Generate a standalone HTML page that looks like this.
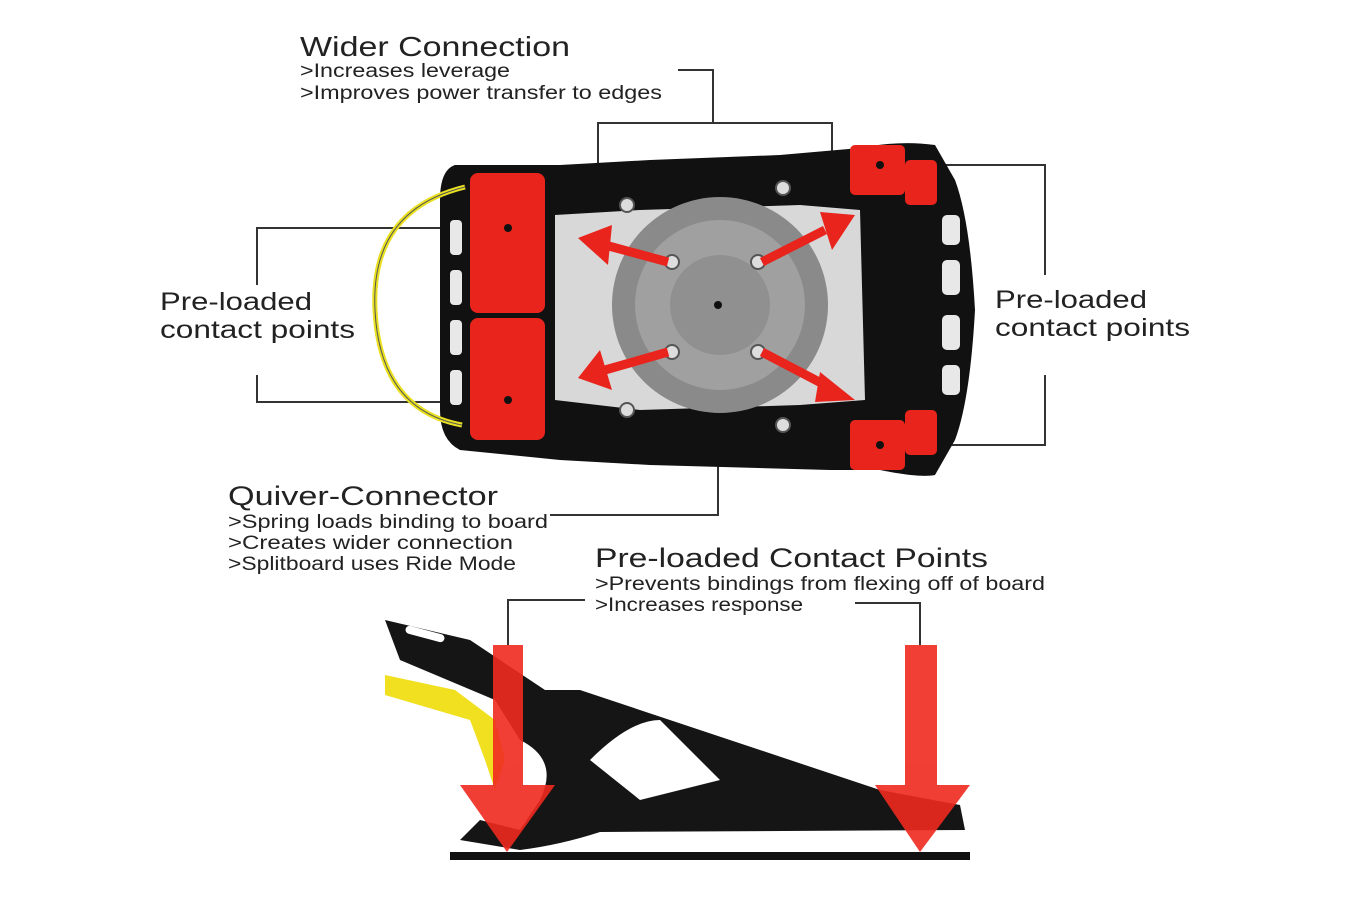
<!DOCTYPE html>
<html><head><meta charset="utf-8"><style>
html,body{margin:0;padding:0;background:#fff;width:1366px;height:920px;overflow:hidden}
svg{display:block}
text{font-family:"Liberation Sans",sans-serif;fill:#222}
</style></head><body>
<svg width="1366" height="920" viewBox="0 0 1366 920">
<g stroke="#333" stroke-width="2" fill="none">
<polyline points="678,70 713,70 713,123"/>
<polyline points="598,190 598,123 832,123 832,190"/>
<polyline points="510,228 257,228 257,285"/>
<polyline points="257,375 257,402 510,402"/>
<polyline points="880,165 1045,165 1045,275"/>
<polyline points="1045,375 1045,445 880,445"/>
<polyline points="550,515 718,515 718,305"/>
<polyline points="585,600 508,600 508,645"/>
<polyline points="855,603 920,603 920,645"/>
</g>
<path d="M455,165 Q440,170 440,200 L440,410 Q440,440 460,450 L560,460 L650,465 L830,470 L880,470 Q920,478 935,475 L955,440 Q970,400 975,310 Q970,220 955,180 L935,145 Q900,140 860,148 L780,155 L650,160 L560,165 Z" fill="#111"/>
<path d="M465,187 Q370,210 375,310 Q380,410 462,425" fill="none" stroke="#e8e020" stroke-width="5"/>
<path d="M465,187 Q370,210 375,310 Q380,410 462,425" fill="none" stroke="#555" stroke-width="1"/>
<path d="M555,215 L640,210 L800,205 L860,210 L865,400 L800,405 L640,410 L555,400 Z" fill="#d8d8d8"/>
<circle cx="720" cy="305" r="108" fill="#8a8a8a"/>
<circle cx="720" cy="305" r="85" fill="#a0a0a0"/>
<circle cx="720" cy="305" r="50" fill="#909090"/>
<g fill="#ddd" stroke="#555" stroke-width="2">
<circle cx="672" cy="262" r="7"/><circle cx="758" cy="262" r="7"/><circle cx="672" cy="352" r="7"/><circle cx="758" cy="352" r="7"/>
<circle cx="627" cy="205" r="7"/><circle cx="783" cy="188" r="7"/><circle cx="627" cy="410" r="7"/><circle cx="783" cy="425" r="7"/>
</g>
<g fill="#e8e8e8">
<rect x="942" y="215" width="18" height="30" rx="5"/><rect x="942" y="260" width="18" height="35" rx="5"/><rect x="942" y="315" width="18" height="35" rx="5"/><rect x="942" y="365" width="18" height="30" rx="5"/>
<rect x="450" y="220" width="12" height="35" rx="4"/><rect x="450" y="270" width="12" height="35" rx="4"/><rect x="450" y="320" width="12" height="35" rx="4"/><rect x="450" y="370" width="12" height="35" rx="4"/>
</g>
<g fill="#e8241c">
<rect x="470" y="173" width="75" height="140" rx="8"/>
<rect x="470" y="318" width="75" height="122" rx="8"/>
<rect x="850" y="145" width="55" height="50" rx="5"/><rect x="905" y="160" width="32" height="45" rx="5"/>
<rect x="850" y="420" width="55" height="50" rx="5"/><rect x="905" y="410" width="32" height="45" rx="5"/>
</g>
<g stroke="#e8241c" stroke-width="9" fill="#e8241c">
<line x1="668" y1="262" x2="605" y2="245"/><line x1="762" y1="262" x2="825" y2="230"/>
<line x1="668" y1="352" x2="605" y2="370"/><line x1="762" y1="352" x2="825" y2="385"/>
</g>
<g fill="#e8241c">
<polygon points="578,238 612,225 608,265"/><polygon points="855,215 820,212 832,250"/>
<polygon points="578,378 600,350 612,390"/><polygon points="855,400 820,372 815,402"/>
</g>
<g fill="#111"><circle cx="508" cy="228" r="4"/><circle cx="508" cy="400" r="4"/><circle cx="880" cy="165" r="4"/><circle cx="880" cy="445" r="4"/><circle cx="718" cy="305" r="4"/></g>
<path d="M385,620 L470,640 L545,690 L580,690 L820,770 L880,790 L960,805 L965,830 L600,832 Q560,845 520,850 L460,840 L480,820 L520,830 L540,800 Q560,760 520,740 L495,700 L400,660 Z" fill="#151515"/>
<path d="M385,675 L455,690 L495,720 L505,760 L495,790 L485,760 L470,720 L385,695 Z" fill="#f0e020"/>
<path d="M590,760 Q630,720 660,720 L720,780 L640,800 Z" fill="#fff"/>
<rect x="405" y="630" width="40" height="8" rx="4" fill="#fff" transform="rotate(15 425 634)"/>
<rect x="450" y="852" width="520" height="8" fill="#111"/>
<g fill="#f02a20" opacity="0.9">
<rect x="493" y="645" width="30" height="140"/><polygon points="460,785 555,785 507,852"/>
<rect x="905" y="645" width="32" height="140"/><polygon points="875,785 970,785 920,852"/>
</g>
<g lengthAdjust="spacingAndGlyphs">
<text x="300" y="56" font-size="28" textLength="270" lengthAdjust="spacingAndGlyphs">Wider Connection</text>
<text x="300" y="77" font-size="19" textLength="210" lengthAdjust="spacingAndGlyphs">&gt;Increases leverage</text>
<text x="300" y="99" font-size="19" textLength="362" lengthAdjust="spacingAndGlyphs">&gt;Improves power transfer to edges</text>
<text x="160" y="310" font-size="25" textLength="152" lengthAdjust="spacingAndGlyphs">Pre-loaded</text>
<text x="160" y="338" font-size="25" textLength="195" lengthAdjust="spacingAndGlyphs">contact points</text>
<text x="995" y="308" font-size="25" textLength="152" lengthAdjust="spacingAndGlyphs">Pre-loaded</text>
<text x="995" y="336" font-size="25" textLength="195" lengthAdjust="spacingAndGlyphs">contact points</text>
<text x="228" y="505" font-size="27" textLength="270" lengthAdjust="spacingAndGlyphs">Quiver-Connector</text>
<text x="228" y="528" font-size="19" textLength="320" lengthAdjust="spacingAndGlyphs">&gt;Spring loads binding to board</text>
<text x="228" y="549" font-size="19" textLength="285" lengthAdjust="spacingAndGlyphs">&gt;Creates wider connection</text>
<text x="228" y="570" font-size="19" textLength="288" lengthAdjust="spacingAndGlyphs">&gt;Splitboard uses Ride Mode</text>
<text x="595" y="567" font-size="27" textLength="393" lengthAdjust="spacingAndGlyphs">Pre-loaded Contact Points</text>
<text x="595" y="590" font-size="19" textLength="450" lengthAdjust="spacingAndGlyphs">&gt;Prevents bindings from flexing off of board</text>
<text x="595" y="611" font-size="19" textLength="208" lengthAdjust="spacingAndGlyphs">&gt;Increases response</text>
</g>
</svg>
</body></html>
